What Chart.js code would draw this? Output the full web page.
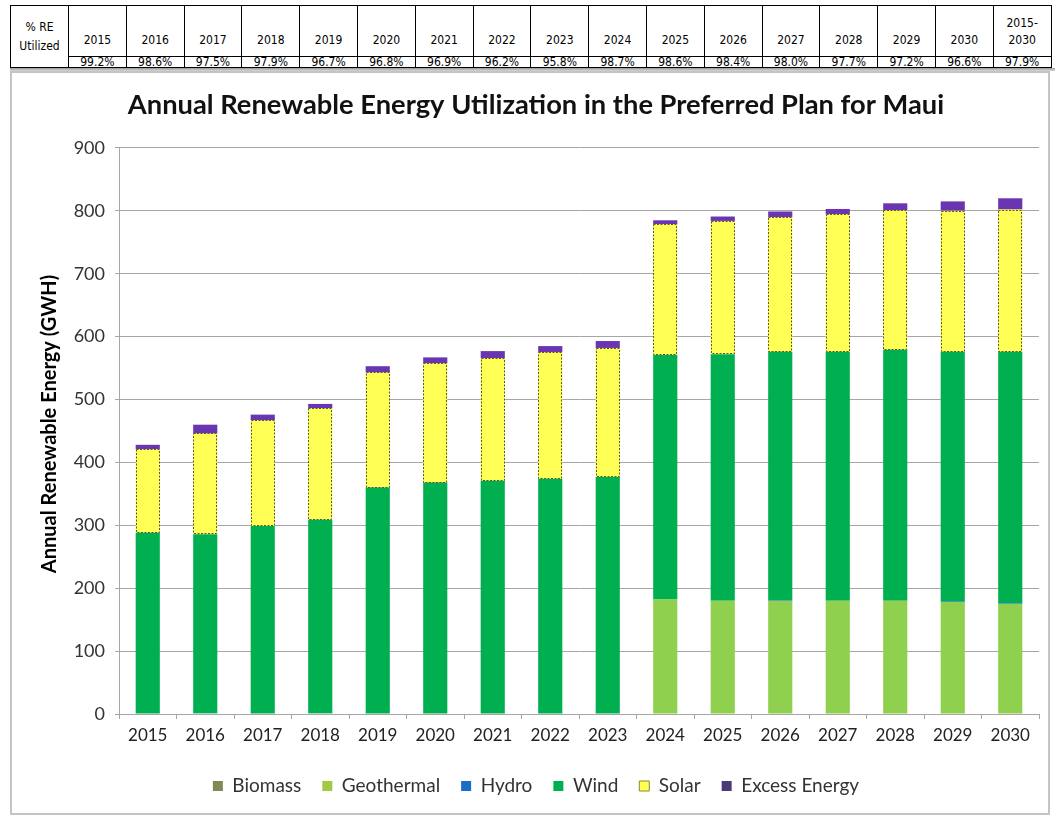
<!DOCTYPE html>
<html>
<head>
<meta charset="utf-8">
<script src="https://cdn.jsdelivr.net/npm/chart.js@4.4.1/dist/chart.umd.min.js"></script>
<style>
  html, body { margin:0; padding:0; background:#fff; width:1055px; height:816px; overflow:hidden; }
  #tbl { position:absolute; left:10px; top:5px; border-collapse:collapse; font-family:"Liberation Sans Narrow", "DejaVu Sans Condensed", sans-serif; font-size:12px; font-weight:normal; color:#000; table-layout:fixed; }
  #tbl td { border:1px solid #000; padding:0; text-align:center; }
  #tbl td.hd { height:43px; vertical-align:bottom; line-height:17px; padding-bottom:7px; }
  #tbl td.vl { height:10px; line-height:10px; }
  #tbl td.lab { width:57px; vertical-align:middle; line-height:19px; }
  #shadow { position:absolute; left:10px; top:68px; width:1045px; height:3px; background:linear-gradient(#9a9a9a,#d8d8d8); }
  #frame { position:absolute; left:10px; top:71px; width:1040px; height:744px; border:2px solid #c4c4c4; box-sizing:border-box; }
  #c { position:absolute; left:0; top:0; }
</style>
</head>
<body>
<table id="tbl"></table>
<div id="shadow"></div>
<div id="frame"><canvas id="c" width="1036" height="740"></canvas></div>
<script>
// ---- data ----
const years = ['2015','2016','2017','2018','2019','2020','2021','2022','2023','2024','2025','2026','2027','2028','2029','2030'];
const biomass    = [0,0,0,0,0,0,0,0,0,0,0,0,0,0,0,0];
const geothermal = [0,0,0,0,0,0,0,0,0,182,180,180,180,180,178,175];
const hydro      = [0,1,0,1,0,0,0,0,0,0,0,1,0,0,1,1];
const wind       = [288,285,299,308,360,368,371,374,377,389,392,395,396,399,397,400];
const solar      = [133,160,168,177,183,190,195,201,205,208,212,214,219,222,224,226];
const excess     = [7,14,9,7,10,9,11,10,11,6,7,9,8,11,15,18];
const tableHeaders = ['2015','2016','2017','2018','2019','2020','2021','2022','2023','2024','2025','2026','2027','2028','2029','2030','2015-<br>2030'];
const rePercent  = ['99.2%','98.6%','97.5%','97.9%','96.7%','96.8%','96.9%','96.2%','95.8%','98.7%','98.6%','98.4%','98.0%','97.7%','97.2%','96.6%','97.9%'];
const yTicks = [0,100,200,300,400,500,600,700,800,900];

// ---- table ----
(function(){
  const t = document.getElementById('tbl');
  let r1 = '<tr><td class="lab" rowspan="2">% RE<br>Utilized</td>';
  tableHeaders.forEach(h => { r1 += '<td class="hd" style="width:56.8px">' + h + '</td>'; });
  r1 += '</tr><tr>';
  rePercent.forEach(v => { r1 += '<td class="vl">' + v + '</td>'; });
  r1 += '</tr>';
  t.innerHTML = r1;
})();

// ---- chart ----
const dashedSolar = {
  id: 'dashedSolar',
  afterDatasetsDraw(chart) {
    const idx = chart.data.datasets.findIndex(d => d.label === 'Solar');
    const meta = chart.getDatasetMeta(idx);
    const ctx = chart.ctx;
    ctx.save();
    ctx.strokeStyle = '#5a5a2a';
    ctx.lineWidth = 1;
    ctx.setLineDash([2, 1.5]);
    meta.data.forEach(bar => {
      const p = bar.getProps(['x','y','base','width'], true);
      const l = Math.round(p.x - p.width/2) + 0.5, r = Math.round(p.x + p.width/2) - 0.5;
      const top = Math.round(p.y) + 0.5, bot = Math.round(p.base) - 0.5;
      ctx.strokeRect(l, top, r - l, bot - top);
    });
    ctx.restore();
  }
};

const FAM = 'Lato, "Open Sans", sans-serif';
const mk = (label, data, color) => ({ label, data, backgroundColor: color, borderWidth: 0, barPercentage: 0.42, categoryPercentage: 1.0 });

new Chart(document.getElementById('c'), {
  type: 'bar',
  data: {
    labels: years,
    datasets: [
      mk('Biomass', biomass, '#7f8a5a'),
      mk('Geothermal', geothermal, '#8fd14f'),
      mk('Hydro', hydro, '#1a6fc4'),
      mk('Wind', wind, '#00b050'),
      mk('Solar', solar, '#ffff55'),
      mk('Excess Energy', excess, '#6a35b0')
    ]
  },
  plugins: [dashedSolar],
  options: {
    responsive: false,
    devicePixelRatio: 1,
    animation: false,
    layout: { padding: { left: 21, right: 9, top: 0, bottom: 7.5 } },
    plugins: {
      title: {
        display: true,
        text: 'Annual Renewable Energy Utilization in the Preferred Plan for Maui',
        font: { family: FAM, size: 27.3, weight: 'bold' },
        color: '#111',
        padding: { top: 15.6, bottom: 26.6 }
      },
      legend: {
        position: 'bottom',
        labels: {
          font: { family: FAM, size: 19 }, color: '#333',
          boxWidth: 10, boxHeight: 10, padding: 21,
          generateLabels(chart) {
            const items = Chart.defaults.plugins.legend.labels.generateLabels(chart);
            items.forEach(it => {
              it.lineWidth = it.text === 'Solar' ? 1 : 0;
              it.strokeStyle = '#8a8a30';
              if (it.text === 'Excess Energy') it.fillStyle = '#4a3a78';
              if (it.text === 'Geothermal') it.fillStyle = '#a3c842';
            });
            return items;
          }
        }
      },
      tooltip: { enabled: false }
    },
    scales: {
      x: {
        stacked: true,
        grid: { display: true, offset: true, drawOnChartArea: false, drawTicks: true, tickLength: 5, color: '#a6a6a6' },
        border: { display: true, color: '#a6a6a6' },
        ticks: { font: { family: FAM, size: 17 }, color: '#222', padding: 6, maxRotation: 0 },
        afterFit(s) { s.height = 41.5; }
      },
      y: {
        stacked: true,
        min: 0, max: 900,
        afterBuildTicks(s) { s.ticks = yTicks.map(v => ({ value: v })); },
        grid: { color: '#a6a6a6', tickLength: 4, drawTicks: true },
        border: { display: true, color: '#a6a6a6' },
        ticks: { font: { family: FAM, size: 18 }, color: '#333', padding: 10 },
        title: {
          display: true,
          text: '\u00a0\u00a0\u00a0Annual Renewable Energy (GWH)',
          font: { family: FAM, size: 20, weight: 'bold' },
          color: '#000',
          padding: { top: 5, bottom: 0 }
        },
        afterFit(s) { s.width = 86; }
      }
    }
  }
});
</script>
</body>
</html>
